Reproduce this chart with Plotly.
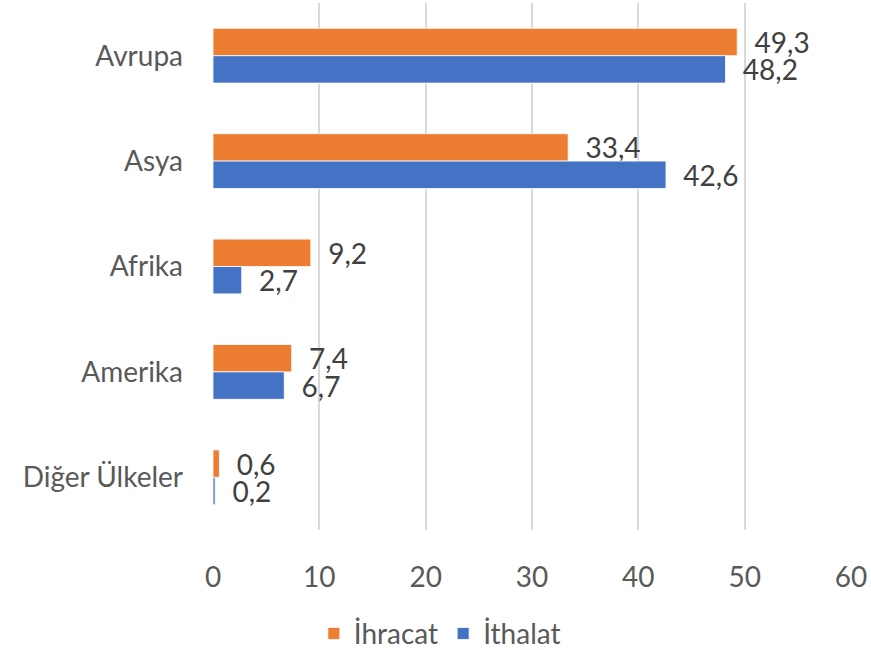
import plotly.graph_objects as go

categories = ["Avrupa", "Asya", "Afrika", "Amerika", "Diğer Ülkeler"]
ihracat = [49.3, 33.4, 9.2, 7.4, 0.6]
ithalat = [48.2, 42.6, 2.7, 6.7, 0.2]
x_ticks = [0, 10, 20, 30, 40, 50, 60]

def fmt(v):
    return "\u00a0\u00a0" + f"{v:.1f}".replace(".", ",")

FONT = "Lato, 'Open Sans', sans-serif"
FS = 28

fig = go.Figure()
fig.add_trace(go.Bar(
    y=categories, x=ihracat, orientation="h", name="İhracat",
    marker=dict(color="#ED7D31", line=dict(color="white", width=0.8)),
    text=[fmt(v) for v in ihracat], textposition="outside", constraintext="none",
    textfont=dict(size=FS, color="#404040", family=FONT), cliponaxis=False,
))
fig.add_trace(go.Bar(
    y=categories, x=ithalat, orientation="h", name="İthalat",
    marker=dict(color="#4472C4", line=dict(color="white", width=0.8)),
    text=[fmt(v) for v in ithalat], textposition="outside", constraintext="none",
    textfont=dict(size=FS, color="#404040", family=FONT), cliponaxis=False,
))

fig.update_layout(
    width=871, height=650,
    margin=dict(l=213, r=20, t=3, b=120),
    paper_bgcolor="white", plot_bgcolor="white",
    barmode="group", bargap=0.48, bargroupgap=0,
    font=dict(family=FONT, size=FS, color="#595959"),
    showlegend=True,
    legend=dict(orientation="h", xref="container", yref="container",
                x=0.505, xanchor="center", y=0.025, yanchor="middle",
                font=dict(size=FS, color="#595959"),
                traceorder="normal"),
    xaxis=dict(range=[0, 60], tickvals=x_ticks, showgrid=True,
               gridcolor="#D9D9D9", gridwidth=1.5, zeroline=False,
               showline=False, ticks="", ticklabelstandoff=28,
               tickfont=dict(size=FS, color="#595959")),
    yaxis=dict(autorange="reversed", showgrid=False, zeroline=False,
               showline=False, ticks="", ticklabelstandoff=29,
               tickfont=dict(size=FS, color="#595959")),
)

fig.write_html("out.html", config={"displayModeBar": False},
               post_script="document.body.style.margin='0';")
